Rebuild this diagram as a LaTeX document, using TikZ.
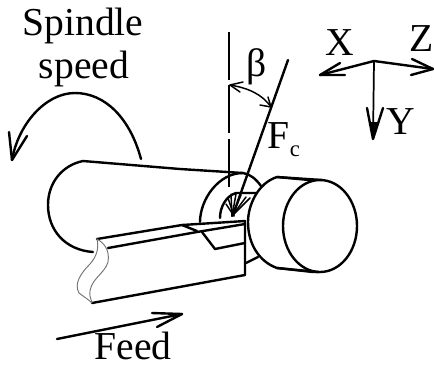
\documentclass[tikz,border=0pt]{standalone}
\usepackage{fontspec}
\setmainfont{Liberation Serif}
\tikzset{
  ink/.style={line width=1.8pt,line cap=round,line join=round,black},
  thin ink/.style={line width=1.1pt,line cap=round,line join=round,black},
  wavy/.style={line width=0.7pt,black!55},
  lbl/.style={font=\fontsize{29.7pt}{30pt}\selectfont,inner sep=0pt,anchor=base},
}
\begin{document}
\begin{tikzpicture}[x=0.75pt,y=-0.75pt]
\useasboundingbox (0,0) rectangle (434,365);
% workpiece, left taper
\draw[ink] (93,252) .. controls (65,250) and (48,230) .. (48,205) .. controls (48,182) and (63,165) .. (83,161) -- (180,169) -- (243,173);
% collar
\draw[ink] (200,222) .. controls (200,200) and (218,173) .. (243,173) .. controls (250,174) and (256,179) .. (261,186);
\draw[ink] (246,263) -- (258,257);
% inner arc at cut
\draw[ink] (220,218) .. controls (220,207) and (226,196) .. (236,193) -- (256,193);
% chip fan
\draw[thin ink] (232,216) -- (231,194);
\draw[thin ink] (232,216) -- (236,194);
\draw[thin ink] (232,216) -- (241,195);
\draw[thin ink] (232,216) -- (246,197);
\draw[thin ink] (232,216) -- (250,198);
\draw[thin ink] (234,216) -- (228,198);
\draw[thin ink] (234,216) -- (226,204);
% force line
\draw[ink] (233,215) -- (288,60);
% right cylinder
\draw[ink,fill=white] (277,177) .. controls (258,183) and (248,205) .. (248,222) .. controls (248,245) and (260,262) .. (277,268) -- (313,272) -- (320,272) -- (320,181) -- cycle;
\draw[draw=white,fill=white] (300,185) rectangle (318,268);
\draw[ink,fill=white] (320,226) ellipse [x radius=37,y radius=46];
\draw[ink] (277,177) -- (322,180);
\draw[ink] (277,268) -- (318,272);
% tool
\draw[draw=none,fill=white] (97,239) -- (245,222) -- (245,275) -- (92,303) -- cycle;
\draw[ink] (97,239) -- (182,225) -- (245,221) -- (245,275) -- (92,303);
\draw[ink] (108,248) -- (197,232) -- (245,224);
\draw[ink] (182,225) -- (197,231);
\draw[ink] (202,232) -- (215,249) -- (245,243);
\draw[wavy] (97,239) .. controls (104,243) and (110,250) .. (108,262) .. controls (105,274) and (88,280) .. (90,296) -- (92,303);
\draw[wavy] (97,239) .. controls (99,248) and (97,256) .. (90,264) .. controls (80,274) and (74,284) .. (79,293) .. controls (84,297) and (88,299) .. (92,303);
% spindle arrow
\draw[ink] (141,159) .. controls (130,118) and (105,93) .. (75,93) .. controls (45,93) and (18,125) .. (12,160);
\draw[ink] (9,132) -- (12,160) -- (27,136);
\draw[ink] (57,339) -- (182,314);
\draw[ink] (152,313) -- (182,314) -- (157,327);
% beta reference
\draw[line width=1.3pt,black,dash pattern=on 36pt off 4pt] (229,32) -- (229,190);
\draw[thin ink] (230,85) .. controls (248,88) and (262,94) .. (271,107);
\draw[thin ink] (243,82) -- (230,85) -- (240,92);
\draw[thin ink] (268,97) -- (271,107) -- (260,105);
% axes
\coordinate (o) at (374,61);
\coordinate (xt) at (320,75);
\coordinate (zt) at (433,69);
\coordinate (yt) at (373,139);
\draw[ink] (xt) -- (o) -- (zt);
\draw[ink] (340,63) -- (xt) -- (345,75);
\draw[ink] (412,59) -- (zt) -- (411,75);
\draw[line width=1.3pt,black] (o) -- (yt);
\draw[ink] (367,108) -- (yt) -- (383,108);
\fill[black] (369.5,122) -- (377.5,122) -- (yt) -- cycle;
% labels
\node[lbl] (spindle) at (83,35) {Spindle};
\node[lbl] (speed) at (84,78) {speed};
\node[lbl] (feed) at (133,359) {Feed};
\node[lbl] (x) at (339.5,55) {X};
\node[lbl] (z) at (421.5,51) {Z};
\node[lbl] (y) at (400.5,134) {Y};
\node[lbl] (beta) at (257,76) {β};
\node[lbl] (fc) at (284,148) {F\raisebox{-6pt}{\fontsize{17pt}{18pt}\selectfont c}};
\end{tikzpicture}
\end{document}
